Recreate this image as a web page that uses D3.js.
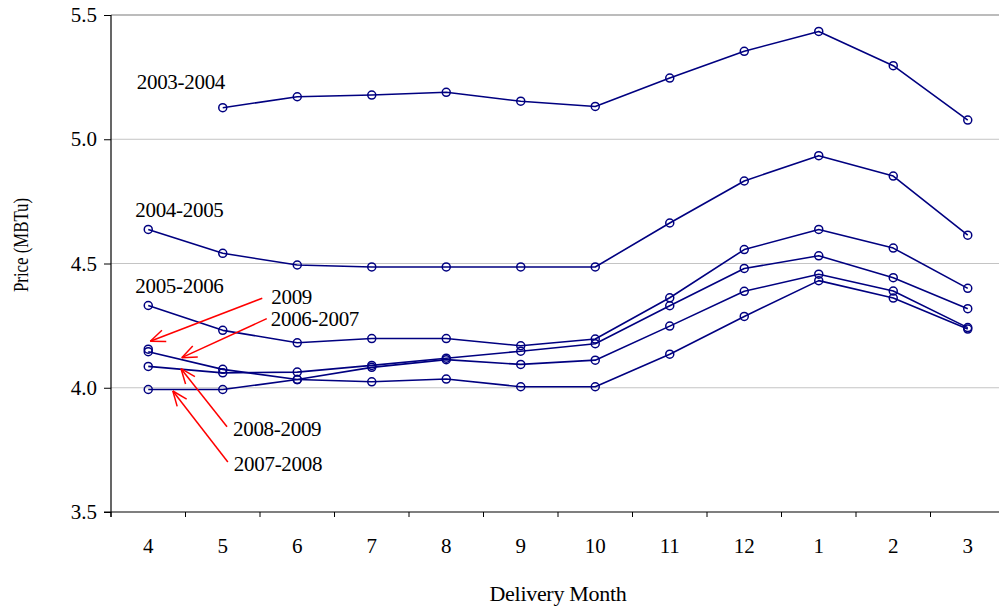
<!DOCTYPE html>
<html><head><meta charset="utf-8">
<script src="https://cdn.jsdelivr.net/npm/d3@7/dist/d3.min.js"></script>
<style>body{margin:0;background:#fff}svg{display:block}</style>
</head><body><svg id="c" width="999" height="611"></svg>
<script>
// ---- data ----
const months = ["4","5","6","7","8","9","10","11","12","1","2","3"];
const yTicks = [3.5, 4.0, 4.5, 5.0, 5.5];
const gridTicks = [4.0, 4.5, 5.0];
const s2003_2004 = [null, 5.127, 5.171, 5.178, 5.189, 5.153, 5.132, 5.246, 5.354, 5.434, 5.296, 5.077];
const s2004_2005 = [4.637, 4.541, 4.494, 4.486, 4.486, 4.486, 4.486, 4.663, 4.832, 4.934, 4.852, 4.614];
const s2005_2006 = [4.331, 4.231, 4.181, 4.198, 4.198, 4.169, 4.196, 4.362, 4.556, 4.637, 4.562, 4.400];
const s2006_2007 = [4.145, 4.074, 4.033, 4.024, 4.035, 4.004, 4.004, 4.135, 4.287, 4.431, 4.361, 4.236];
const s2007_2008 = [3.993, 3.993, 4.033, 4.082, 4.113, 4.094, 4.111, 4.248, 4.388, 4.457, 4.389, 4.242];
const s2008_2009 = [4.086, 4.060, 4.063, 4.090, 4.119, 4.147, 4.177, 4.330, 4.480, 4.531, 4.443, 4.318];
const s2009      = [4.155, null, null, null, null, null, null, null, null, null, null, null];
const seriesNames = ["2003-2004","2004-2005","2005-2006","2006-2007","2007-2008","2008-2009","2009"];
const seriesValues = [s2003_2004, s2004_2005, s2005_2006, s2006_2007, s2007_2008, s2008_2009, s2009];
const xTitle = "Delivery Month";
const yTitle = "Price (MBTu)";

// ---- layout / style ----
const FONT = "'Liberation Serif', 'DejaVu Serif', 'Times New Roman', Times, serif";
const svg = d3.select("#c").style("font-family", FONT);
const x = d3.scaleBand().domain(months).range([111, 1005]).padding(0);
const y = d3.scaleLinear().domain([3.5, 5.5]).range([512, 15]);
const cx = m => x(m) + x.bandwidth() / 2;
const navy = "#000080";
const txt = sel => sel.style("font-family", FONT).attr("fill", "#000");

// gridlines
svg.append("g").selectAll("line").data(gridTicks).join("line")
  .attr("x1", x.range()[0]).attr("x2", x.range()[1])
  .attr("y1", d => y(d)).attr("y2", d => y(d))
  .attr("stroke", "#c4c4c4").attr("stroke-width", 1);
// top border
svg.append("line").attr("x1", x.range()[0]).attr("x2", x.range()[1])
  .attr("y1", y(5.5)).attr("y2", y(5.5)).attr("stroke", "#7a7a7a").attr("stroke-width", 1.2);

// y axis
const yAxis = svg.append("g").attr("transform", `translate(${x.range()[0]},0)`)
  .call(d3.axisLeft(y).tickValues(yTicks).tickFormat(d3.format(".1f")).tickSize(7).tickPadding(7));
yAxis.attr("font-family", null).attr("font-size", null);
yAxis.select(".domain").attr("d", `M0,${y(5.5)}V${y(3.5) + 5}`).attr("stroke", "#000").attr("stroke-width", 1.2);
yAxis.selectAll("text").attr("font-size", 21).call(txt);
yAxis.selectAll(".tick line").attr("stroke", "#000");

// x axis
const xAxis = svg.append("g").attr("transform", `translate(0,${y(3.5)})`)
  .call(d3.axisBottom(x).tickSize(0).tickPadding(0));
xAxis.attr("font-family", null).attr("font-size", null);
xAxis.select(".domain").attr("d", `M${x.range()[0] - 7},0H${x.range()[1]}`).attr("stroke", "#000").attr("stroke-width", 1.2);
xAxis.selectAll("text").attr("font-size", 21).attr("y", 41).attr("dy", 0).call(txt);
xAxis.selectAll(".bound").data(months.map(m => x(m)).concat([x.range()[1]])).join("line")
  .attr("class", "bound").attr("x1", d => d).attr("x2", d => d).attr("y1", 0).attr("y2", 5)
  .attr("stroke", "#000").attr("stroke-width", 1);

// titles
svg.append("text").attr("x", 558).attr("y", 601).attr("text-anchor", "middle")
  .attr("font-size", 22).attr("letter-spacing", -0.3).text(xTitle).call(txt);
svg.append("text").attr("transform", "translate(28,245) rotate(-90) scale(0.8,1)")
  .attr("text-anchor", "middle").attr("font-size", 21).text(yTitle).call(txt);

// series
const line = d3.line().defined(d => d.v != null).x(d => cx(d.m)).y(d => y(d.v));
const gS = svg.append("g");
seriesValues.forEach((vals, i) => {
  const pts = months.map((m, j) => ({ m, v: vals[j] }));
  gS.append("path").datum(pts).attr("d", line).attr("fill", "none")
    .attr("stroke", navy).attr("stroke-width", 1.6).attr("stroke-linejoin", "round");
  gS.append("g").selectAll("circle").data(pts.filter(d => d.v != null)).join("circle")
    .attr("cx", d => cx(d.m)).attr("cy", d => y(d.v)).attr("r", 4)
    .attr("fill", "none").attr("stroke", navy).attr("stroke-width", 1.5);
});

// direct series labels (offset from first point)
const directLabels = [
  { s: 0, dx: -86, dy: -19 },
  { s: 1, dx: -13, dy: -12.5 },
  { s: 2, dx: -13, dy: -12 }
];
directLabels.forEach(l => {
  const vals = seriesValues[l.s];
  const j = vals.findIndex(v => v != null);
  svg.append("text").attr("x", cx(months[j]) + l.dx).attr("y", y(vals[j]) + l.dy)
    .attr("font-size", 21).attr("letter-spacing", -0.3).text(seriesNames[l.s]).call(txt);
});

// arrow annotations
const arrows = [
  { s: 6, seg: 0, t: 0,    tdx: 2,  tdy: -8,  sx: 112, sy: -43, lx: 121, ly: -37.5 },
  { s: 3, seg: 0, t: 0.45, tdx: 0,  tdy: -2,  sx: 85,  sy: -39, lx: 89,  ly: -32 },
  { s: 5, seg: 0, t: 0.44, tdx: 0,  tdy: -0.5, sx: 46, sy: 58,  lx: 52,  ly: 67 },
  { s: 4, seg: 0, t: 0.33, tdx: 0,  tdy: 1.5, sx: 55,  sy: 71,  lx: 61,  ly: 80 }
];
const gA = svg.append("g");
arrows.forEach(a => {
  const vals = seriesValues[a.s];
  const m0 = months[a.seg], m1 = months[a.seg + 1];
  const v1 = vals[a.seg + 1] == null ? vals[a.seg] : vals[a.seg + 1];
  const tx = cx(m0) + (cx(m1) - cx(m0)) * a.t + a.tdx;
  const ty = y(vals[a.seg]) + (y(v1) - y(vals[a.seg])) * a.t + a.tdy;
  const sx = tx + a.sx, sy = ty + a.sy;
  gA.append("line").attr("x1", sx).attr("y1", sy).attr("x2", tx).attr("y2", ty)
    .attr("stroke", "#ff0000").attr("stroke-width", 1.5);
  const ang = Math.atan2(sy - ty, sx - tx), L = 16, sp = 22 * Math.PI / 180;
  [ang - sp, ang + sp].forEach(b => {
    gA.append("line").attr("x1", tx).attr("y1", ty)
      .attr("x2", tx + L * Math.cos(b)).attr("y2", ty + L * Math.sin(b))
      .attr("stroke", "#ff0000").attr("stroke-width", 1.5);
  });
  svg.append("text").attr("x", tx + a.lx).attr("y", ty + a.ly).attr("font-size", 21)
    .attr("letter-spacing", -0.3).text(seriesNames[a.s]).call(txt);
});
</script></body></html>
